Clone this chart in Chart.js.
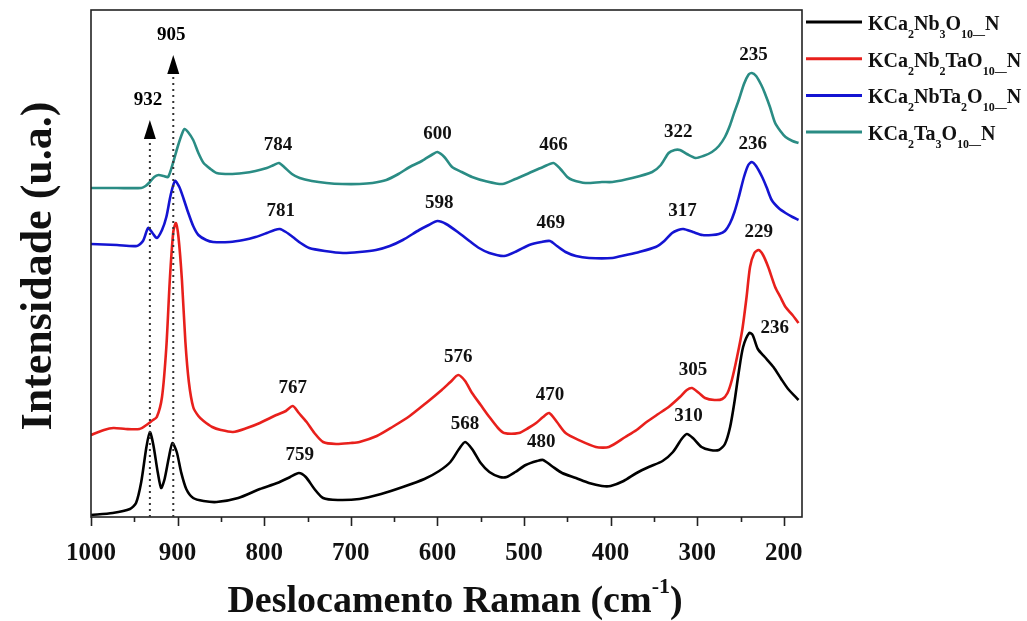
<!DOCTYPE html>
<html><head><meta charset="utf-8">
<script src="https://cdn.jsdelivr.net/npm/chart.js@4.4.1/dist/chart.umd.min.js"></script>
<style>html,body{margin:0;padding:0;background:#fff;}#wrap{width:1027px;height:621px;}</style>
</head><body><div id="wrap"><canvas id="c" width="1027" height="621"></canvas></div>
<script>
// ---- data (Raman shift in cm-1, intensity in arbitrary units, curves stacked) ----
const shiftBlack = [1000,975,955,948,942,936,932,928,923,919,915,910,906,901,896,890,882,870,855,830,805,785,770,760,752,742,732,715,690,665,640,615,598,585,575,568,560,550,540,528,520,510,498,485,478,468,456,440,425,410,400,385,370,356,340,328,318,312,305,295,285,275,268,262,257,252,247,240,236,230,222,212,203,195,183];
const intBlack   = [2,4,8,14,35,70,85,72,45,29,38,60,74,65,45,28,19,16,15,19,28,34,40,44,40,28,19,17,18,23,30,38,46,55,68,75,68,54,45,40,40,45,52,56,57,51,44,39,34,31,31,36,44,50,56,65,78,83,79,70,67,67,73,90,115,145,170,184,182,168,160,150,138,128,117];

const shiftRed = [1000,985,974,960,944,936,930,924,918,913,909,905,902,899,895,891,887,882,876,870,860,850,836,820,805,786,775,767,760,751,742,732,717,700,690,670,652,632,613,595,585,576,568,560,550,540,530,523,506,495,486,478,471,462,452,437,417,402,383,370,360,345,333,320,312,306,298,291,280,271,265,260,254,248,243,239,234,229,224,218,210,204,198,190,183];
const intRed   = [82,87,89,88,88,92,96,100,120,170,237,285,294,280,237,175,135,110,101,96,90,87,85,89,94,102,106,111,104,95,84,75,73,74,75,81,90,101,114,127,135,142,136,124,112,100,89,84,84,89,94,100,104,95,84,77,70,70,80,87,94,103,110,120,127,129,124,119,117,118,124,137,160,187,220,250,264,267,262,250,230,220,210,202,194];

const shiftBlue = [1000,970,947,940,934,929,924,918,913,908,903,898,893,888,882,876,867,859,840,824,810,797,788,782,775,767,758,748,730,709,690,671,655,640,621,610,600,590,575,563,552,540,523,508,494,480,470,462,452,440,425,398,382,367,348,338,329,322,316,305,294,283,275,268,262,257,252,246,241,237,232,225,220,214,206,198,190,183];
const intBlue   = [273,272,271,276,289,284,279,287,300,322,336,330,318,305,291,282,277,275,275,277,280,284,287,288,285,280,274,269,266,264,265,267,271,277,287,292,296,293,284,276,269,264,261,266,272,275,276,271,265,261,259,259,262,265,270,276,284,287,288,285,282,282,283,286,294,305,320,340,352,355,351,340,330,317,309,304,300,297];

const shiftTeal = [1000,970,942,937,932,927,922,916,911,906,900,895,892,888,882,876,870,862,855,840,824,810,797,789,783,777,768,759,745,728,710,690,675,659,645,632,618,605,600,592,583,572,560,545,525,510,494,478,466,458,450,444,429,410,398,375,352,342,333,326,320,312,302,293,283,275,268,262,257,252,246,241,237,232,226,222,216,210,204,198,190,183];
const intTeal   = [329,329,329,331,335,340,342,341,340,352,370,383,388,385,377,364,354,348,344,343,344,346,349,352,354,350,343,339,336,334,333,333,334,337,343,350,356,363,365,360,350,345,340,336,333,338,344,350,354,348,340,337,334,335,335,339,345,352,364,367,367,363,359,361,365,371,380,392,405,417,433,442,444,441,432,424,410,394,386,380,376,374];

const seriesNames = ['KCa\u2082Nb\u2083O\u2081\u2080\u2014N','KCa\u2082Nb\u2082TaO\u2081\u2080\u2014N','KCa\u2082NbTa\u2082O\u2081\u2080\u2014N','KCa\u2082Ta\u2083O\u2081\u2080\u2014N'];
// legend rich text: [text, isSubscript]
const legendParts = [
  [['KCa',0],['2',1],['Nb',0],['3',1],['O',0],['10\u2014',1],['N',0]],
  [['KCa',0],['2',1],['Nb',0],['2',1],['TaO',0],['10\u2014',1],['N',0]],
  [['KCa',0],['2',1],['NbTa',0],['2',1],['O',0],['10\u2014',1],['N',0]],
  [['KCa',0],['2',1],['Ta',0],['3',1],['O',0],['10\u2014',1],['N',0]]
];
const xTickValues = [1000,900,800,700,600,500,400,300,200];
const peaksBlack = [759,568,480,310,236];
const peaksRed   = [767,576,470,305,229];
const peaksBlue  = [781,598,469,317,236];
const peaksTeal  = [784,600,466,322,235];
const markerPeaks = [932,905];
const markerTipLevels = [397,462];
const xTitle = 'Deslocamento Raman (cm';
const xTitleSup = '-1';
const yTitle = 'Intensidade (u.a.)';

const colors = ['#000000','#e8201c','#1414d2','#2a8c84'];
const SERIF = '"Liberation Serif", "Times New Roman", serif';

const shifts = [shiftBlack, shiftRed, shiftBlue, shiftTeal];
const ints = [intBlack, intRed, intBlue, intTeal];
const peaks = [peaksBlack, peaksRed, peaksBlue, peaksTeal];

const datasets = shifts.map((sx, k) => ({
  label: seriesNames[k],
  data: sx.map((x, i) => ({x: x, y: ints[k][i]})),
  borderColor: colors[k],
  borderWidth: 2.6,
  pointRadius: 0,
  fill: false,
  tension: 0.25
}));

const decor = {
  id: 'decor',
  afterDatasetsDraw(chart) {
    const ctx = chart.ctx, a = chart.chartArea;
    const xs = chart.scales.x, ys = chart.scales.y;
    ctx.save();
    // frame
    ctx.strokeStyle = '#222'; ctx.lineWidth = 1.6;
    ctx.strokeRect(a.left, a.top, a.right - a.left, a.bottom - a.top);
    // ticks
    ctx.beginPath();
    for (let v = 1000; v >= 200; v -= 50) {
      const px = Math.round(xs.getPixelForValue(v)) + 0.5;
      const len = (v % 100 === 0) ? 9 : 5;
      ctx.moveTo(px, a.bottom); ctx.lineTo(px, a.bottom + len);
    }
    ctx.stroke();
    // dotted marker lines with arrows
    markerPeaks.forEach((p, i) => {
      const px = xs.getPixelForValue(p);
      const tip = ys.getPixelForValue(markerTipLevels[i]);
      ctx.save();
      ctx.setLineDash([2, 4]); ctx.lineWidth = 2; ctx.strokeStyle = '#333';
      ctx.beginPath(); ctx.moveTo(px, a.bottom); ctx.lineTo(px, tip + 18); ctx.stroke();
      ctx.restore();
      ctx.fillStyle = '#000';
      ctx.beginPath(); ctx.moveTo(px, tip); ctx.lineTo(px - 6, tip + 19); ctx.lineTo(px + 6, tip + 19); ctx.closePath(); ctx.fill();
      ctx.font = 'bold 19px ' + SERIF; ctx.textAlign = 'center'; ctx.textBaseline = 'middle';
      ctx.fillText(String(p), px - 2, tip - 20);
    });
    // peak labels
    ctx.fillStyle = '#111'; ctx.font = 'bold 19px ' + SERIF; ctx.textAlign = 'center'; ctx.textBaseline = 'middle';
    peaks.forEach((list, k) => {
      list.forEach(p => {
        let m = -Infinity;
        shifts[k].forEach((x, i) => { if (Math.abs(x - p) <= 6) m = Math.max(m, ints[k][i]); });
        let px = xs.getPixelForValue(p), py = ys.getPixelForValue(m) - 18;
        if (k === 0 && p === 236) { px += 22; py += 13; }
        ctx.fillText(String(p), px, py);
      });
    });
    // legend
    const lx0 = a.right + 4, lx1 = a.right + 60, tx = a.right + 66;
    legendParts.forEach((parts, k) => {
      const y = 22 + k * 36.7;
      ctx.strokeStyle = colors[k]; ctx.lineWidth = 3;
      ctx.beginPath(); ctx.moveTo(lx0, y); ctx.lineTo(lx1, y); ctx.stroke();
      let x = tx;
      ctx.fillStyle = '#111'; ctx.textAlign = 'left'; ctx.textBaseline = 'alphabetic';
      parts.forEach(([t, sub]) => {
        ctx.font = sub ? ('bold 12px ' + SERIF) : ('bold 20px ' + SERIF);
        ctx.fillText(t, x, sub ? y + 16 : y + 8);
        x += ctx.measureText(t).width;
      });
    });
    // x title
    ctx.fillStyle = '#111'; ctx.textBaseline = 'alphabetic'; ctx.textAlign = 'left';
    ctx.font = 'bold 38px ' + SERIF;
    const w1 = ctx.measureText(xTitle).width;
    ctx.font = 'bold 22px ' + SERIF;
    const w2 = ctx.measureText(xTitleSup).width;
    ctx.font = 'bold 38px ' + SERIF;
    const w3 = ctx.measureText(')').width;
    let sx = 455 - (w1 + w2 + w3) / 2;
    ctx.fillText(xTitle, sx, 612); sx += w1;
    ctx.font = 'bold 22px ' + SERIF; ctx.fillText(xTitleSup, sx, 593); sx += w2;
    ctx.font = 'bold 38px ' + SERIF; ctx.fillText(')', sx, 612);
    // y title
    ctx.save();
    ctx.translate(51, 266); ctx.rotate(-Math.PI / 2);
    ctx.font = 'bold 44px ' + SERIF; ctx.textAlign = 'center'; ctx.textBaseline = 'alphabetic';
    ctx.fillText(yTitle, 0, 0);
    ctx.restore();
    ctx.restore();
  }
};

new Chart(document.getElementById('c'), {
  type: 'line',
  data: { datasets: datasets },
  options: {
    responsive: false, animation: false, devicePixelRatio: 1,
    layout: { padding: { left: 91, right: 225, top: 10, bottom: 0 } },
    plugins: { legend: { display: false }, tooltip: { enabled: false } },
    scales: {
      x: {
        type: 'linear', reverse: true, min: 179, max: 1000,
        grid: { display: false }, border: { display: false },
        afterBuildTicks: s => { s.ticks = xTickValues.map(v => ({ value: v })); },
        afterFit: s => { s.height = 104; },
        ticks: { font: { family: SERIF, weight: 'bold', size: 25 }, color: '#111', padding: 14, maxRotation: 0, autoSkip: false,
                 callback: v => String(v) }
      },
      y: { display: false, min: 0, max: 507 }
    }
  },
  plugins: [decor]
});
</script>
</body></html>
